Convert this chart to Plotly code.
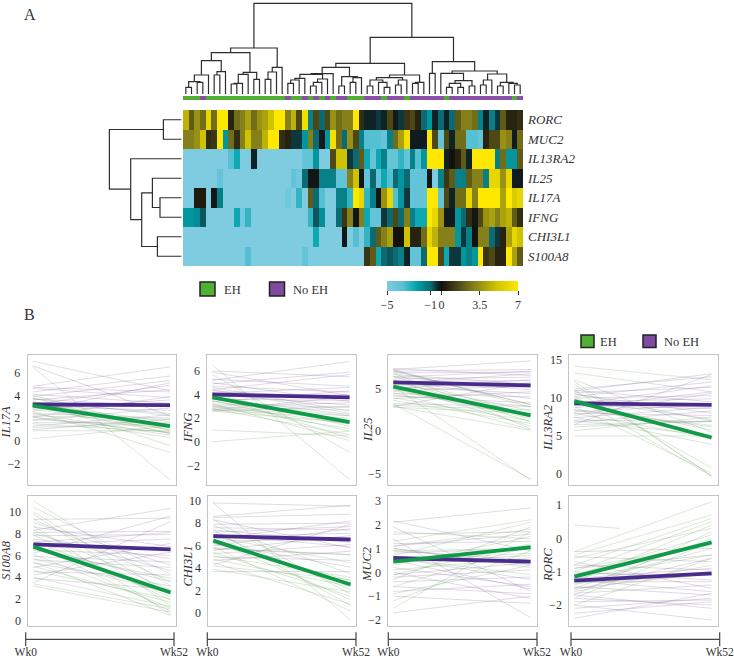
import plotly.graph_objects as go

W, H = 734, 659
FONT = "Liberation Serif"
INK = "#333333"

# ---------- Panel A data ----------
genes = ["RORC", "MUC2", "IL13RA2", "IL25", "IL17A", "IFNG", "CHI3L1", "S100A8"]
RORC_z = [4.5,2,3.5,2.5,6,2.5,7,7,.5,2.5,3,4,2.5,3.5,4,5,7,7,3,4.5,1.5,6.5,-1.5,1.5,-1,1.5,3.5,2.5,3,3,7,.8,
          -.3,-.3,-.5,-.3,1.5,-.2,-.5,1,1.5,.5,-1,-2,-.3,-1,-.3,-1,2,3,3,2.5,-1.5,-.3,-1.5,-.5,2,.5,.5,.8]
MUC2_z = [3,3,3.5,5,.8,1,7,-2,2.5,.8,3,5,3,3,4.5,7,7,.8,.5,-.5,-.5,-2,3,-1,-.2,-2,6.5,2.5,-1,3.5,1.5,-1.5,
          -3.5,-3.5,-3.5,-4,-1.5,2.5,4,6.5,-.2,-.2,-.2,7,1.5,-4,1.5,-.3,2.5,2.5,-3.5,-3.5,-4,.5,1.5,1.5,3.5,3,-.2,2.5]
IL13RA2_z = [-5,-5,-5,-5,-5,-5,-5,-5,-3.5,-2.5,-5,-5,-.3,-5,-5,-5,-5,-5,-5,-5,-5,-4,-4,-2,-5,-5,1.5,5,5,-.5,-1,2,
             -2.5,-4,-2.5,-1.5,-4,-4,-3,-4,-1.5,-3.5,-2,7,7,7,-.3,0,.5,2,-.3,7,7,7,7,-1.5,2.5,-2,-2,2]
IL25_z = [-5,-5,-5,-5,-5,-5,-4,-5,-5,-5,-5,-5,-5,-5,-5,-5,-5,-5,-5,-4,-4.5,-1,-.1,-.1,-1.5,-1.5,-1.5,-4,-4,3,5,-.1,
          -4,-1,-4,-2.5,-3.5,-1,-2,-1,-4,-4,-4,-.1,-5,-1.5,1,2,-1.5,-1.5,2,3,3,-1.5,6,6,3.5,6,-.2,-.2]
IL17A_z = [-5,-5,.3,.3,-5,-.1,-1.5,-5,-5,-5,-5,-5,-5,-5,-5,-5,-5,-5,-4.5,-5,-3,-5,2,-1,-3.5,-5,-5,-1.5,-1.5,-3,7,6,
           -3,-1.5,-.1,3.5,6,-3.5,-2,-.5,-4,-4,-4,7,7,-4,1.5,-.3,2.5,2.5,6,3,7,7,7,7,4,7,5.5,6]
IFNG_z = [-2,-2,-1.8,-.8,-5,-5,-5,-5,-5,-2.5,-4.5,-3,-5,-5,-5,-5,-5,-5,-5,-5,-5,-5,-3,-.8,-1.8,-5,-5,-1,1,3,-.1,3,
          -2.5,-4,-4,-.5,-1,1.5,-1,3,-1.5,-2.5,-2.5,7,6,3.5,-.2,-.2,-2,-1,.8,-.1,1.5,3.5,4,3,4,4.5,2,.8]
CHI3L1_z = [-5,-5,-5,-5,-5,-5,-5,-5,-5,-5,-5,-5,-5,-5,-5,-5,-5,-5,-5,-5,-5,-5,-5,-2.5,-5,-5,-5,-5,-.1,-5,-3.5,-5,
            -3,-1,2,3,4,0,0,5,.5,.5,2.5,6,4.5,3,3,3,-2,-.5,-1.5,0,3,3,-1,-.5,.5,4,6,5]
S100A8_z = [-5,-5,-5,-5,-5,-5,-5,-5,-5,-5,-5,-3.5,-5,-5,-5,-5,-5,-5,-5,-5,-5,-4,-5,-5,-5,-5,-5,-5,-5,-5,-5,-5,
            1,2,-2.5,-1,-.8,-1,-1.5,-.3,-4,-4,-1,7,7,1.5,-2.5,-.5,-.5,-2,-1.5,-2,7,1,1.5,.5,.5,7,4,2]
heat_z = [RORC_z, MUC2_z, IL13RA2_z, IL25_z, IL17A_z, IFNG_z, CHI3L1_z, S100A8_z]
cbar_vals = [-5, -1, 0, 3.5, 7]
no_eh_cols = [3,18,21,23,25,27,28,32,33,34,36,37,38,40,41,42,43,44,45,47,48,49,50,51,52,53,54,55,56,57,59]

# Dendrograms: node = [height, child, child]; leaf = L
L = 0
top_left = [47,
    [42.3,
        [34.3, [20, [13.3, [7.7, L, L], [12.7, L, L]], L], [23.3, [20, L, L], L]],
        [22.7, [20.7, [11.7, [11, L, L], L], L], [15.7, L, L]]],
    [27.7, [23, [15.7, L, L], L], L]]
top_mid = [31.7,
    [27.7,
        [21.3, [20.7, [16.7, [15, [11.7, L, L], L], L], [16, [12.7, [9, L, L], L], L]], L],
        [18.3, [9, L, L], [17.3, [12.7, L, L], L]]],
    [20,
        [17.3, [15, [9, L, L], [12.7, L, [7.7, L, L]]], [15, [10, L, L], L]],
        [12.7, [11.7, L, L], L]]]
top_right = [33.3,
    [21.7, L, L],
    [24,
        [21.7, L, [14.3, [11.7, [7.7, L, L], [7.7, L, L]], [9, L, L]]],
        [21, [15, [10, L, L], L], [12.7, [9, L, L], [11.7, L, [10, L, L]]]]]]
top_tree = [91.7, top_left, [57.7, top_mid, top_right]]
side_tree = [72.3, [18.3, L, L],
             [51, L, [40, [29.3, L, [21.7, L, L]], [24.3, L, L]]]]

# ---------- Panel B data ----------
x_wk = [0, 1]
wk_labels = ["Wk0", "Wk52"]
IL17A_g0 = [6.5,4.0,3.8,3.7,3.5,3.3,3.2,3.0,2.8,2.6,2.4,2.2,2.1,1.9,1.5,1.2,0.9,0.2]
IL17A_g1 = [-3.4,0.9,0.6,2.2,-0.4,1.4,1.7,0.7,1.0,-1.0,0.5,1.9,0.3,1.2,0.8,1.5,0.9,1.3]
IL17A_p0 = [7.0,6.6,4.8,4.7,4.6,4.3,4.1,3.9,3.7,3.6,3.4,3.2,3.0,2.8,2.6,2.4,2.1,1.8,1.6,1.3,1.0,2.1]
IL17A_p1 = [4.4,2.2,6.5,4.3,3.8,5.7,3.3,5.3,3.0,4.5,2.4,4.9,2.7,3.6,5.1,2.0,3.9,2.9,1.6,2.3,1.9,0.7]
IFNG_g0 = [6.5,5.7,4.4,4.1,3.9,3.7,3.5,3.4,3.2,3.1,3.0,2.9,2.8,2.7,2.6,1.0,0.0]
IFNG_g1 = [-3.2,-0.9,2.4,1.3,0.3,1.8,0.9,2.2,0.1,1.5,1.1,2.7,0.6,2.0,1.6,0.5,0.9]
IFNG_p0 = [6.0,5.9,5.3,5.2,5.0,4.9,4.7,4.6,4.4,4.3,4.1,4.0,3.9,3.7,3.6,3.4,3.2,3.0,2.8,2.7,2.6]
IFNG_p1 = [5.5,3.9,4.7,6.8,3.4,5.9,4.2,2.6,5.7,3.7,4.6,3.1,4.0,2.3,3.5,4.3,2.9,3.3,2.2,3.8,3.0]
IL25_g0 = [7.2,7.0,6.8,6.4,6.0,5.7,5.4,5.2,4.9,4.7,4.5,4.2,3.9,3.6,3.2,3.0,2.9,2.8]
IL25_g1 = [2.8,3.1,0.3,1.8,1.1,2.4,0.6,-5.7,1.5,2.0,0.2,2.9,1.2,0.9,-5.6,2.5,0.1,2.1]
IL25_p0 = [7.3,7.2,7.1,7.0,6.8,6.6,6.4,6.3,6.1,5.9,5.8,5.6,5.4,5.2,5.0,4.7,4.4,4.1,3.8,3.2,2.9]
IL25_p1 = [6.5,8.2,3.1,7.2,6.9,5.5,4.8,7.0,6.3,3.8,5.9,6.7,5.1,4.4,6.0,5.3,4.0,3.3,4.6,2.9,5.7]
IL13RA2_g0 = [14.2,13.3,12.4,12.2,11.8,11.0,10.6,10.2,9.8,9.3,8.9,8.4,8.0,7.5,7.0,6.5,5.7,5.0]
IL13RA2_g1 = [12.4,10.8,5.5,-0.3,-0.2,0.8,7.0,-0.3,4.5,5.8,0.1,6.4,4.7,3.9,5.1,6.9,7.5,5.0]
IL13RA2_p0 = [11.2,11.0,10.9,10.7,10.5,10.2,10.0,9.8,9.5,9.2,9.0,8.7,8.5,8.2,8.0,7.7,7.4,7.1,6.8,6.5,6.2]
IL13RA2_p1 = [12.8,9.5,13.2,11.4,8.0,12.1,10.3,7.2,9.9,11.6,8.6,10.8,6.2,9.1,7.7,10.6,8.8,6.9,8.3,13.1,7.0]
S100A8_g0 = [11.0,10.4,10.0,9.8,9.3,8.7,8.3,7.9,7.4,7.0,6.5,6.1,5.7,5.4,5.0,4.6,4.0,3.4,3.2]
S100A8_g1 = [3.2,4.3,2.4,1.4,3.6,0.6,2.8,1.9,2.2,0.9,3.9,1.2,2.6,0.5,1.7,2.0,1.3,1.1,0.8]
S100A8_p0 = [9.3,9.0,8.6,8.3,8.1,8.0,7.8,7.5,7.2,7.0,6.8,6.5,6.2,5.9,5.6,5.3,4.9,4.5,4.2,3.9,3.5]
S100A8_p1 = [9.4,5.1,6.8,10.3,8.2,4.6,7.9,5.7,8.1,7.5,3.6,6.0,9.6,5.4,4.9,3.2,7.1,4.2,6.3,2.9,9.1]
CHI3L1_g0 = [9.8,8.3,7.8,7.4,7.1,6.8,6.5,6.2,5.9,5.7,5.4,5.1,4.8,4.5,4.2,3.9]
CHI3L1_g1 = [-0.6,1.7,3.5,0.7,2.1,4.5,1.2,2.9,0.2,5.2,1.5,3.2,2.4,0.8,3.0,1.9]
CHI3L1_p0 = [9.8,8.6,8.5,8.3,7.9,7.6,7.4,7.2,7.0,6.8,6.6,6.4,6.2,6.0,5.8,5.6,5.3,5.0,4.7,4.3,3.7]
CHI3L1_p1 = [9.5,9.6,8.8,5.8,8.0,7.4,6.3,7.7,5.9,7.1,8.2,6.6,4.1,7.5,5.2,6.9,6.1,4.7,5.5,7.9,3.7]
MUC2_g0 = [1.7,1.3,1.1,0.9,0.7,0.5,0.3,0.1,-0.1,-0.3,-0.6,-0.9,-1.5,-1.2,1.0,0.6]
MUC2_g1 = [1.4,2.2,1.8,1.0,2.1,0.8,1.5,0.6,1.2,1.9,1.1,0.3,1.7,0.9,0.2,-0.1]
MUC2_p0 = [2.15,2.1,1.9,1.6,1.4,1.2,1.0,0.8,0.6,0.4,0.2,0.0,-0.2,-0.4,-0.6,-0.8,-1.0,-1.7,1.1,0.9,0.5,-0.1]
MUC2_p1 = [0.9,2.7,-0.8,1.7,-1.9,1.3,0.3,1.0,-0.3,0.7,-0.6,-1.1,0.1,-0.2,-0.9,-0.5,-1.3,-1.0,1.6,0.5,-0.7,0.4]
RORC_g0 = [-0.4,-0.5,-0.6,-0.8,-0.9,-1.0,-1.1,-1.2,-1.3,-1.4,-1.5,-1.6,-1.7,-1.8,-2.0,-1.35]
RORC_g1 = [1.1,0.7,0.3,0.6,-0.2,0.5,0.1,-0.5,0.4,-0.3,0.0,-0.8,0.2,-0.1,-0.6,-1.1]
RORC_p0 = [-0.4,-0.55,-0.7,-0.9,-1.05,-1.2,-1.3,-1.45,-1.55,-1.65,-1.8,-1.9,-2.0,-2.1,-2.25,-2.4,-1.0,-1.25,-0.8,-1.5,-1.7]
RORC_p1 = [-0.3,-0.7,-1.5,-0.5,-1.1,-0.9,-1.3,-1.7,-0.6,-1.4,-2.0,-1.85,-2.45,-1.8,-1.9,-1.65,-1.25,-1.6,-0.95,-1.05,-2.1]
RORC_short_x = [0, 0.33]
RORC_short_y = [0.4, 0.3]

IL17A_eh, IL17A_no = [3.1, 1.3], [3.2, 3.15]
IFNG_eh, IFNG_no = [3.75, 1.65], [4.0, 3.75]
IL25_eh, IL25_no = [5.2, 1.85], [5.7, 5.35]
IL13RA2_eh, IL13RA2_no = [9.6, 4.8], [9.3, 9.1]
S100A8_eh, S100A8_no = [6.8, 2.6], [7.0, 6.55]
CHI3L1_eh, CHI3L1_no = [6.45, 2.55], [6.85, 6.55]
MUC2_eh, MUC2_no = [0.45, 1.05], [0.6, 0.45]
RORC_eh, RORC_no = [-1.15, -0.12], [-1.27, -1.05]

panels = [
    ("IL17A", IL17A_g0, IL17A_g1, IL17A_p0, IL17A_p1, IL17A_eh, IL17A_no, [-2,0,2,4,6], [-3.86,7.54]),
    ("IFNG", IFNG_g0, IFNG_g1, IFNG_p0, IFNG_p1, IFNG_eh, IFNG_no, [-2,0,2,4,6], [-3.67,7.35]),
    ("IL25", IL25_g0, IL25_g1, IL25_p0, IL25_p1, IL25_eh, IL25_no, [-5,0,5], [-6.28,8.89]),
    ("IL13RA2", IL13RA2_g0, IL13RA2_g1, IL13RA2_p0, IL13RA2_p1, IL13RA2_eh, IL13RA2_no, [0,5,10,15], [-1.45,15.66]),
    ("S100A8", S100A8_g0, S100A8_g1, S100A8_p0, S100A8_p1, S100A8_eh, S100A8_no, [0,2,4,6,8,10], [-0.46,11.46]),
    ("CHI3L1", CHI3L1_g0, CHI3L1_g1, CHI3L1_p0, CHI3L1_p1, CHI3L1_eh, CHI3L1_no, [0,2,4,6,8,10], [-1.13,10.44]),
    ("MUC2", MUC2_g0, MUC2_g1, MUC2_p0, MUC2_p1, MUC2_eh, MUC2_no, [-2,-1,0,1,2,3], [-2.25,3.21]),
    ("RORC", RORC_g0, RORC_g1, RORC_p0, RORC_p1, RORC_eh, RORC_no, [-2,-1,0,1], [-2.63,1.28]),
]

# ---------- Layout geometry (pixels) ----------
def px(x): return x / W
def py(y): return 1 - y / H
def xdom(a, b): return [px(a), px(b)]
def ydom(top, bottom): return [py(bottom), py(top)]

HX0, HX1 = 183, 523
frames = [(27.7,175.7,355,485), (207.3,355.7,355,485), (388.3,536.7,355,485), (569.3,717.7,355,485),
          (28.3,175.7,495.7,626), (208.3,355.7,495.7,626), (388.3,536.7,495.7,626), (569.3,717.7,495.7,626)]
title_pos = [(6,422.5), (188,428), (368,430), (548,428), (6,560), (187.5,566), (367,565), (548,565)]
bottom_axes = [(25.7,174), (207.3,356), (388.3,537), (571,719.7)]

fig = go.Figure()
layout = {}
axis_n = 0
def new_axes(xd, yd, xopts, yopts):
    global axis_n
    axis_n += 1
    s = "" if axis_n == 1 else str(axis_n)
    base = dict(showgrid=False, zeroline=False, fixedrange=True, showticklabels=False, ticks="")
    layout["xaxis"+s] = dict(base, domain=xd, anchor="y"+s, **xopts)
    layout["yaxis"+s] = dict(base, domain=yd, anchor="x"+s, **yopts)
    return "x"+s, "y"+s

# heatmap
colors = [(-5,"#7fcbe0"),(-3.5,"#55c0d2"),(-2.3,"#00a3ad"),(-1,"#0b6a72"),(-0.25,"#0e1e22"),(0,"#14110c"),
          (1,"#3a3512"),(3,"#85801a"),(5,"#cfc300"),(7,"#ffe800")]
cscale = [[(v+5)/12, c] for v, c in colors]
xa, ya = new_axes(xdom(HX0,HX1), ydom(110,266), dict(range=[-.5,59.5]),
    dict(range=[7.5,-.5], side="right", showticklabels=True, tickvals=list(range(8)),
         ticktext=["<i>%s</i>"%g for g in genes], tickfont=dict(size=13, family=FONT, color=INK),
         ticklabelstandoff=4))
fig.add_trace(go.Heatmap(z=heat_z, zmin=-5, zmax=7, colorscale=cscale, xaxis=xa, yaxis=ya, hoverinfo="skip",
    colorbar=dict(orientation="h", x=px(387), xanchor="left", y=py(281), yanchor="top", lenmode="pixels", len=130.5,
                  thicknessmode="pixels", thickness=10, xpad=0, ypad=0, outlinewidth=0, ticks="outside",
                  ticklen=4, tickwidth=1, tickcolor=INK, tickvals=cbar_vals, tickmode="array", tickangle=0,
                  ticktext=["−5","−1","0","3.5","7"], tickfont=dict(size=12, family=FONT, color=INK))))

# annotation strip
strip = [[1 if k in no_eh_cols else 0 for k in range(60)]]
xa, ya = new_axes(xdom(HX0,HX1), ydom(96,100), dict(range=[-.5,59.5]), dict(range=[-.5,.5]))
fig.add_trace(go.Heatmap(z=strip, zmin=0, zmax=1, showscale=False, xaxis=xa, yaxis=ya, hoverinfo="skip",
    colorscale=[[0,"#4fb034"],[.5,"#4fb034"],[.5,"#8a4fa8"],[1,"#8a4fa8"]]))

# dendrograms
def walk(node, state, a, b):
    if node == L:
        pos = state[0]; state[0] += 1
        return pos, 0
    pos1, h1 = walk(node[1], state, a, b)
    pos2, h2 = walk(node[2], state, a, b)
    h = node[0]
    a += [pos1, pos1, pos2, pos2, None]
    b += [h1, h, h, h2, None]
    return (pos1+pos2)/2, h

ta, tb = [], []
walk(top_tree, [0], ta, tb)
tb = [None if v is None else max(v, 1) for v in tb]
xa, ya = new_axes(xdom(HX0,HX1), ydom(0,95), dict(range=[-.5,59.5]), dict(range=[0,95]))
fig.add_trace(go.Scatter(x=ta, y=tb, mode="lines", xaxis=xa, yaxis=ya, hoverinfo="skip", cliponaxis=False,
                         line=dict(color="#2e2e2e", width=1.2)))
sa, sb = [], []
walk(side_tree, [0], sa, sb)
xa, ya = new_axes(xdom(80,181.7), ydom(110,266), dict(range=[101.7,0]), dict(range=[7.5,-.5]))
fig.add_trace(go.Scatter(x=sb, y=sa, mode="lines", xaxis=xa, yaxis=ya, hoverinfo="skip", cliponaxis=False,
                         line=dict(color="#2e2e2e", width=1.2)))

# small multiples
def segs(a, b):
    xs, ys = [], []
    for u, v in zip(a, b):
        xs += x_wk + [None]; ys += [u, v, None]
    return xs, ys

annots = []
for i, (name, g0, g1, p0, p1, eh, no, ticks, yr) in enumerate(panels):
    l, r, t, bt = frames[i]
    xr = [-5/137.3, (r-l-5)/137.3]
    xa, ya = new_axes(xdom(l,r), ydom(t,bt),
        dict(range=xr, showline=True, mirror=True, linecolor="#c4c4c4", linewidth=1),
        dict(range=yr, showline=True, mirror=True, linecolor="#c4c4c4", linewidth=1, showticklabels=True,
             tickvals=ticks, tickfont=dict(size=12, family=FONT, color=INK), ticklabelstandoff=4))
    xs, ys = segs(p0, p1)
    fig.add_trace(go.Scatter(x=xs, y=ys, mode="lines", xaxis=xa, yaxis=ya, hoverinfo="skip",
                             line=dict(color="rgba(95,60,125,0.28)", width=0.7)))
    xs, ys = segs(g0, g1)
    fig.add_trace(go.Scatter(x=xs, y=ys, mode="lines", xaxis=xa, yaxis=ya, hoverinfo="skip",
                             line=dict(color="rgba(90,150,75,0.32)", width=0.7)))
    if name == "RORC":
        fig.add_trace(go.Scatter(x=RORC_short_x, y=RORC_short_y, mode="lines", xaxis=xa, yaxis=ya, hoverinfo="skip",
                                 line=dict(color="rgba(90,150,75,0.32)", width=0.7)))
    fig.add_trace(go.Scatter(x=x_wk, y=no, mode="lines", xaxis=xa, yaxis=ya, hoverinfo="skip",
                             line=dict(color="#4a2b8c", width=3.8)))
    fig.add_trace(go.Scatter(x=x_wk, y=eh, mode="lines", xaxis=xa, yaxis=ya, hoverinfo="skip",
                             line=dict(color="#0f9a48", width=3.8)))
    tx, ty = title_pos[i]
    annots.append(dict(text="<i>%s</i>"%name, x=px(tx), y=py(ty), xref="paper", yref="paper", showarrow=False,
                       xanchor="center", yanchor="middle", textangle=-90,
                       font=dict(size=12.5, family=FONT, color=INK)))

for a, b in bottom_axes:
    xa, ya = new_axes(xdom(a,b), ydom(632,642),
        dict(range=[0,1], showticklabels=True, tickvals=x_wk, ticktext=wk_labels,
             tickfont=dict(size=11.5, family=FONT, color=INK), ticklabelstandoff=1),
        dict(range=[-1,1]))
    fig.add_trace(go.Scatter(x=x_wk, y=[-0.46,-0.46], mode="lines+markers", xaxis=xa, yaxis=ya, hoverinfo="skip",
        cliponaxis=False, line=dict(color="#444444", width=1.2),
        marker=dict(symbol="line-ns", size=10, line=dict(color="#444444", width=1.2))))

def label(text, x, y, size):
    annots.append(dict(text=text, x=px(x), y=py(y), xref="paper", yref="paper", showarrow=False,
                       xanchor="left", yanchor="middle", font=dict(size=size, family=FONT, color=INK)))
label("A", 22, 15, 16)
label("B", 22, 314, 16)
label("EH", 221.5, 290, 12.5)
label("No EH", 291, 290, 12.5)
label("EH", 598, 342, 12.5)
label("No EH", 661.5, 342, 12.5)

def swatch(x0, y0, x1, y1, c):
    return dict(type="rect", xref="paper", yref="paper", x0=px(x0), x1=px(x1), y0=py(y0), y1=py(y1),
                fillcolor=c, line=dict(color="#222222", width=1.5))
shapes = [swatch(200,282,215,296,"#4fb034"), swatch(269.5,282,284.5,296,"#7f4aa0"),
          swatch(581,335,594,347.5,"#4fb034"), swatch(643,335,656,347.5,"#7f4aa0")]

fig.update_layout(width=W, height=H, margin=dict(l=0,r=0,t=0,b=0,autoexpand=False), paper_bgcolor="white", plot_bgcolor="white",
                  showlegend=False, annotations=annots, shapes=shapes, font=dict(family=FONT), **layout)
fig.write_html("out.html", post_script="document.body.style.margin='0';", config={"displayModeBar": False})
